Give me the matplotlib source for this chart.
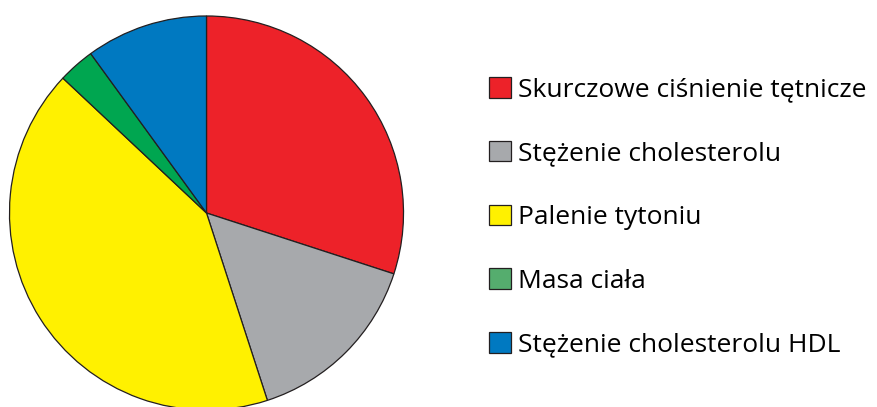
import matplotlib
matplotlib.use("Agg")
import matplotlib.pyplot as plt
from matplotlib.patches import Patch

plt.rcParams['font.family'] = ['Open Sans', 'DejaVu Sans']

labels = ['Skurczowe ciśnienie tętnicze', 'Stężenie cholesterolu', 'Palenie tytoniu',
          'Masa ciała', 'Stężenie cholesterolu HDL']
sizes = [30, 15, 42, 3, 10]
colors = ['#ED2229', '#A7A9AC', '#FFF100', '#00A650', '#0079C1']
legend_colors = ['#ED2229', '#A7A9AC', '#FFF100', '#55AD6E', '#0079C1']

fig = plt.figure(figsize=(8.77, 4.07), dpi=100)
ax = fig.add_axes([8.5 / 877, -4 / 407, 396 / 877, 396 / 407])
ax.pie(sizes, colors=colors, startangle=90, counterclock=False,
       wedgeprops=dict(edgecolor='#231F20', linewidth=0.9))
ax.set_xlim(-1.005, 1.005)
ax.set_ylim(-1.005, 1.005)
ax.set_aspect('equal')
ax.axis('off')

handles = [Patch(facecolor=c, edgecolor='#231F20', linewidth=0.9) for c in legend_colors]
fig.legend(handles, labels, loc='upper left', bbox_to_anchor=(489 / 877, 1 - 77 / 407),
           frameon=False, fontsize=19, handlelength=0.83, handleheight=0.83,
           handletextpad=0.27, labelspacing=1.45, borderaxespad=0, borderpad=0)

fig.savefig('out.png', dpi=100)
